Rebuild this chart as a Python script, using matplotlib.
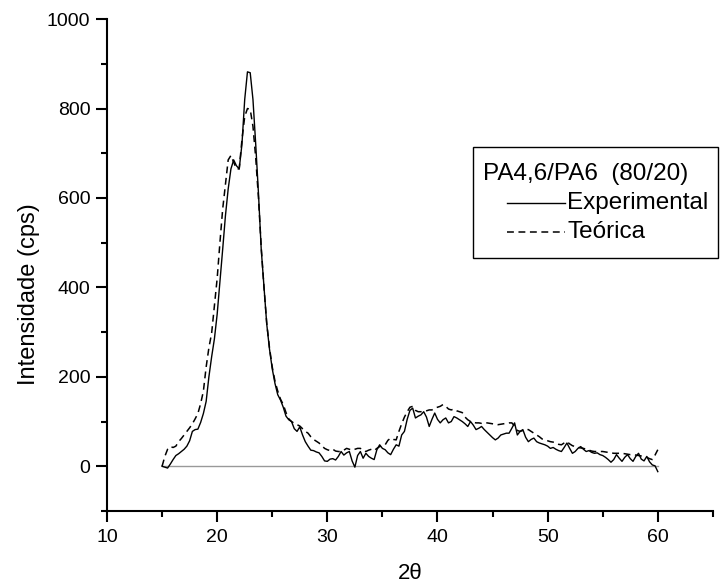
import numpy as np
import matplotlib
matplotlib.use("Agg")
import matplotlib.pyplot as plt
from matplotlib.lines import Line2D
from matplotlib.patches import Rectangle

plt.rcParams['font.family'] = ['Liberation Sans', 'DejaVu Sans']

two_theta = np.arange(15.0, 60.001, 0.25)

experimental = [
    0, -2, -4, 5, 15, 24, 28, 33, 38, 45, 57, 78, 82, 83, 98, 118,
    145, 200, 245, 285, 340, 412, 485, 560, 620, 665, 685, 672, 665, 720, 820, 882,
    880, 820, 720, 610, 485, 400, 318, 262, 218, 185, 160, 148, 132, 112, 104, 100,
    84, 78, 88, 70, 55, 45, 36, 35, 32, 30, 22, 12, 11, 16, 17, 14,
    22, 33, 25, 30, 33, 12, -2, 24, 33, 18, 29, 22, 18, 15, 37, 48,
    40, 37, 30, 26, 38, 48, 45, 70, 78, 105, 125, 130, 108, 112, 115, 122,
    110, 89, 105, 119, 105, 97, 104, 108, 97, 100, 111, 108, 104, 100, 95, 89,
    100, 92, 82, 85, 89, 82, 76, 70, 64, 59, 63, 70, 72, 74, 74, 85,
    97, 70, 78, 82, 65, 55, 60, 63, 55, 52, 50, 48, 45, 40, 42, 38,
    35, 33, 42, 52, 40, 29, 33, 40, 44, 38, 33, 35, 31, 29, 30, 26,
    24, 20, 15, 9, 15, 26, 18, 11, 20, 26, 17, 11, 22, 29, 16, 12,
    22, 10, 3, 1, -12,
]

teorica = [
    0, 22, 38, 44, 42, 45, 55, 62, 70, 78, 86, 95, 106, 118, 140, 168,
    222, 265, 298, 360, 420, 500, 575, 630, 685, 695, 680, 665, 665, 730, 782, 800,
    798, 760, 690, 600, 490, 400, 320, 265, 222, 190, 168, 150, 138, 120, 106, 100,
    96, 93, 90, 84, 78, 74, 66, 60, 56, 52, 46, 40, 37, 35, 38, 34,
    33, 33, 36, 40, 38, 36, 38, 40, 40, 35, 33, 36, 38, 35, 40, 44,
    46, 48, 58, 63, 60, 59, 78, 95, 110, 122, 132, 134, 125, 122, 122, 122,
    124, 126, 126, 130, 132, 134, 138, 134, 128, 126, 128, 124, 122, 120, 110, 104,
    100, 98, 97, 97, 96, 97, 97, 96, 95, 94, 93, 94, 95, 96, 97, 97,
    90, 80, 78, 80, 82, 82, 78, 74, 70, 66, 61, 59, 57, 55, 54, 52,
    49, 48, 52, 55, 50, 46, 44, 42, 41, 40, 38, 36, 34, 33, 33, 33,
    33, 32, 31, 30, 29, 29, 29, 29, 28, 27, 26, 26, 25, 24, 23, 22,
    20, 17, 15, 25, 37,
]

legend_title = "PA4,6/PA6  (80/20)"
series_labels = ["Experimental", "Teórica"]

W, H = 723, 587
fig = plt.figure(figsize=(W / 100, H / 100), dpi=100)
ax = fig.add_axes([0.148, 0.1295, 0.838, 0.838])

dash = (0, (4.5, 3))
ax.plot([two_theta[0], two_theta[-1]], [0, 0], color='#999999', lw=1.0, zorder=1)
ax.plot(two_theta, experimental, color='black', lw=1.0, zorder=3, label=series_labels[0])
ax.plot(two_theta, teorica, color='black', lw=1.1, ls=dash, zorder=2, label=series_labels[1])

ax.set_xlim(10, 65)
ax.set_ylim(-100, 1000)
ax.set_xticks([10, 20, 30, 40, 50, 60])
ax.set_xticks([15, 25, 35, 45, 55, 65], minor=True)
ax.set_yticks([0, 200, 400, 600, 800, 1000])
ax.set_yticks([-100, 100, 300, 500, 700, 900], minor=True)

for s in ['top', 'right']:
    ax.spines[s].set_visible(False)
for s in ['left', 'bottom']:
    ax.spines[s].set_linewidth(1.5)

ax.tick_params(which='major', direction='out', length=8, width=1.5, labelsize=14, pad=4)
ax.tick_params(which='minor', direction='out', length=4.3, width=1.5)
ax.tick_params(axis='x', which='major', pad=5)

ax.set_xlabel("2θ", fontsize=16, labelpad=12)
ax.set_ylabel("Intensidade (cps)", fontsize=17)
ax.yaxis.set_label_coords(-0.11, 0.44)

# legend box drawn in figure pixel coordinates
def fx(px):
    return px / W

def fy(py):
    return 1 - py / H

fig.patches.append(Rectangle((fx(473), fy(258)), fx(718) - fx(473), fy(147) - fy(258),
                             transform=fig.transFigure, fill=False, edgecolor='black',
                             lw=1.0, zorder=5))
fig.text(fx(483), fy(174), legend_title, fontsize=17.5, va='center', ha='left')
fig.lines.append(Line2D([fx(507), fx(565)], [fy(203), fy(203)], transform=fig.transFigure,
                        color='black', lw=1.0))
fig.text(fx(567), fy(203), series_labels[0], fontsize=17.5, va='center', ha='left')
fig.lines.append(Line2D([fx(507), fx(565)], [fy(232), fy(232)], transform=fig.transFigure,
                        color='black', lw=1.1, ls=dash))
fig.text(fx(567), fy(232), series_labels[1], fontsize=17.5, va='center', ha='left')

fig.savefig("out.png", dpi=100)
